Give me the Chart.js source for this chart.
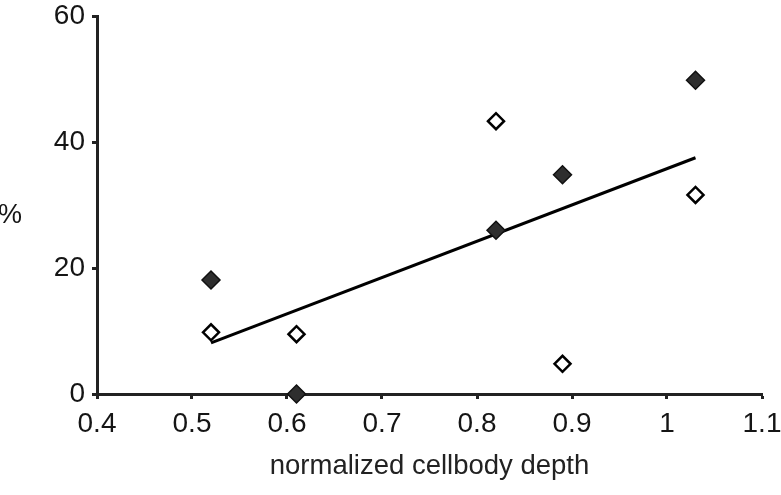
<!DOCTYPE html>
<html lang="en">
<head>
  <meta charset="UTF-8">
  <title>cellbody depth</title>
  <script src="https://cdn.jsdelivr.net/npm/chart.js"></script>
  <style>
    body{
      margin: 0;
      background: #fff;
    }
    #wrap {
      position: relative;
      width: 781px;
      height: 495px;
    }
  </style>
</head>
<body>
<div id="wrap">
  <canvas id="myChart" width="781" height="495"></canvas>
</div>
<script>
// values
const depth = [0.52, 0.61, 0.82, 0.89, 1.03];
const filledPct = [18.1, 0, 26.0, 34.8, 49.8];
const openPct = [9.8, 9.5, 43.3, 4.8, 31.6];
const fitX = [0.52, 1.03];
const fitY = [8.1, 37.5];
const xTicks = [0.4, 0.5, 0.6, 0.7, 0.8, 0.9, 1, 1.1];
const yTicks = [0, 20, 40, 60];

const font = "'Liberation Sans', Arial, Helvetica, sans-serif";
const ink = '#151515';

// "%" sits upright left of the axis, not rotated
const percentLabel = {
  id: 'percentLabel',
  afterDraw(chart) {
    const c = chart.ctx;
    c.save();
    c.font = '27px ' + font;
    c.fillStyle = ink;
    c.textAlign = 'left';
    c.textBaseline = 'middle';
    c.fillText('%', -2, 216);
    c.restore();
  }
};

const toPts = (xs, ys) => xs.map((x, i) => ({ x: x, y: ys[i] }));

const ctx = document.getElementById('myChart').getContext('2d');
new Chart(ctx, {
  type: 'scatter',
  data: {
    datasets: [
      {
        label: 'fit',
        type: 'line',
        data: toPts(fitX, fitY),
        borderColor: '#000',
        borderWidth: 3,
        pointRadius: 0,
        fill: false,
        order: 3
      },
      {
        label: 'filled',
        data: toPts(depth, filledPct),
        pointStyle: 'rectRot',
        pointRadius: 9,
        backgroundColor: '#2e2e2e',
        borderColor: '#111',
        borderWidth: 1.5,
        clip: false,
        order: 2
      },
      {
        label: 'open',
        data: toPts(depth, openPct),
        pointStyle: 'rectRot',
        pointRadius: 8,
        backgroundColor: '#fff',
        borderColor: '#000',
        borderWidth: 2.5,
        clip: false,
        order: 1
      }
    ]
  },
  options: {
    responsive: false,
    animation: false,
    layout: { padding: { left: 0, right: 19, top: 16, bottom: 0 } },
    plugins: {
      legend: { display: false },
      tooltip: { enabled: false }
    },
    scales: {
      x: {
        type: 'linear',
        min: 0.4,
        max: 1.1,
        afterBuildTicks(scale) { scale.ticks = xTicks.map(v => ({ value: v })); },
        afterFit(scale) { scale.height = 101; scale.paddingLeft = 0; scale.paddingRight = 0; },
        border: { display: true, color: '#222', width: 3 },
        grid: { display: true, drawOnChartArea: false, drawTicks: true, tickLength: 5, tickWidth: 3, tickColor: '#222' },
        ticks: {
          color: ink,
          padding: 8,
          font: { family: font, size: 28 },
          callback: v => String(v)
        },
        title: {
          display: true,
          text: 'normalized cellbody depth',
          color: '#222',
          font: { family: font, size: 27.5 },
          padding: { top: 0, bottom: 12 }
        }
      },
      y: {
        type: 'linear',
        min: 0,
        max: 60,
        afterBuildTicks(scale) { scale.ticks = yTicks.map(v => ({ value: v })); },
        afterFit(scale) { scale.width = 97; scale.paddingTop = 0; scale.paddingBottom = 0; },
        border: { display: true, color: '#222', width: 3 },
        grid: { display: true, drawOnChartArea: false, drawTicks: true, tickLength: 5, tickWidth: 3, tickColor: '#222' },
        ticks: {
          color: ink,
          padding: 7,
          font: { family: font, size: 28 }
        }
      }
    }
  },
  plugins: [percentLabel]
});
</script>
</body>
</html>
